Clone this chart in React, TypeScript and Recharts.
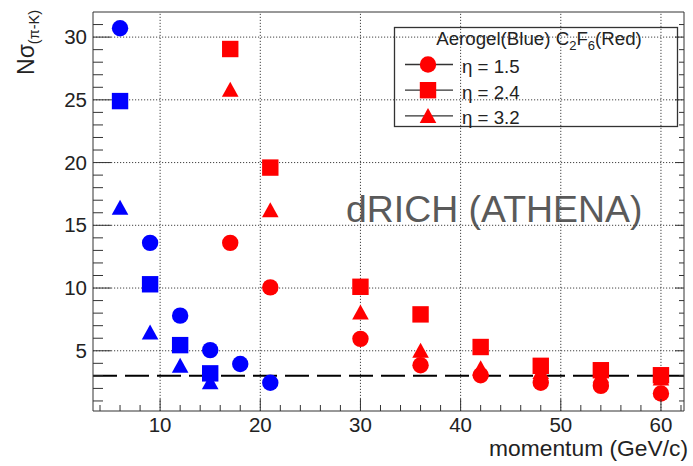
import { ScatterChart, Scatter, XAxis, YAxis, ReferenceLine, Customized } from 'recharts';

// Aerogel (blue) momenta and separation power per eta
const aeroMomentumEta15 = [6, 9, 12, 15, 18, 21];
const aeroEta15 = [30.7, 13.6, 7.8, 5.05, 3.95, 2.45];
const aeroMomentum = [6, 9, 12, 15];
const aeroEta24 = [24.9, 10.3, 5.45, 3.2];
const aeroEta32 = [16.4, 6.45, 3.8, 2.5];

// C2F6 gas (red)
const gasMomentum = [17, 21, 30, 36, 42, 48, 54, 60];
const gasEta15 = [13.6, 10.05, 5.95, 3.85, 3.05, 2.45, 2.2, 1.6];
const gasEta24 = [29.05, 19.6, 10.1, 7.9, 5.3, 3.8, 3.45, 3.05];
const gasEta32 = [25.8, 16.2, 8.05, 5.0, 3.6, 3.3, 3.0, 2.8];

const xMajor = [10, 20, 30, 40, 50, 60];
const xTicks = [4, 6, 8, 10, 12, 14, 16, 18, 20, 22, 24, 26, 28, 30, 32, 34, 36, 38, 40, 42, 44, 46, 48, 50, 52, 54, 56, 58, 60, 62];
const yMajor = [5, 10, 15, 20, 25, 30];
const yTicks = Array.from({ length: 31 }, (_, i) => i + 1);
const threshold = 3;

const legendItems = ['η = 1.5', 'η = 2.4', 'η = 3.2'];

const FONT = '"Liberation Sans", Arial, Helvetica, sans-serif';
const AXIS = '#333';
const BLUE = '#0000ff';
const RED = '#ff0000';

const pts = (xs: number[], ys: number[]) => xs.map((x, i) => ({ x, y: ys[i] }));

const CircleMark = (p: any) => <circle cx={p.cx} cy={p.cy} r={8.2} fill={p.fill} />;
const SquareMark = (p: any) => <rect x={p.cx - 8.2} y={p.cy - 8.2} width={16.4} height={16.4} fill={p.fill} />;
const TriMark = (p: any) => (
  <polygon points={`${p.cx},${p.cy - 8} ${p.cx - 8.3},${p.cy + 7} ${p.cx + 8.3},${p.cy + 7}`} fill={p.fill} />
);

const BottomTick = ({ x, y, payload }: any) => {
  const major = payload.value % 10 === 0;
  return (
    <g>
      <line x1={x} x2={x} y1={y} y2={y - (major ? 12 : 6)} stroke={AXIS} />
      {major && (
        <text x={x} y={y + 21} textAnchor="middle" fontSize={20.5} fontFamily={FONT} fill="#222">
          {payload.value}
        </text>
      )}
    </g>
  );
};

const TopTick = ({ x, y, payload }: any) => {
  const major = payload.value % 10 === 0;
  return <line x1={x} x2={x} y1={y} y2={y + (major ? 7 : 4)} stroke={AXIS} />;
};

const LeftTick = ({ x, y, payload }: any) => {
  const major = payload.value % 5 === 0;
  return (
    <g>
      <line x1={x} x2={x + (major ? 18 : 10)} y1={y} y2={y} stroke={AXIS} />
      {major && (
        <text x={x - 6} y={y + 7} textAnchor="end" fontSize={20.5} fontFamily={FONT} fill="#222">
          {payload.value}
        </text>
      )}
    </g>
  );
};

const RightTick = ({ x, y, payload }: any) => {
  const major = payload.value % 5 === 0;
  return <line x1={x} x2={x - (major ? 9 : 5)} y1={y} y2={y} stroke={AXIS} />;
};

const Decorations = () => (
  <g fontFamily={FONT}>
    <text transform="translate(34,10) rotate(-90)" textAnchor="end" fontSize={23} fill="#222">
      <tspan>Nσ</tspan>
      <tspan fontSize={14.5} dy={5}>(π-K)</tspan>
    </text>
    <text x={688} y={456} textAnchor="end" fontSize={22.8} fill="#222">
      momentum (GeV/c)
    </text>
    <text x={346} y={222} fontSize={37.4} fill="#5a5a5a">
      dRICH (ATHENA)
    </text>
    <rect x={394.5} y={27.5} width={283} height={99} fill="#fff" stroke={AXIS} strokeWidth={1.3} />
    <text x={539} y={45} textAnchor="middle" fontSize={18.7} fill="#222">
      Aerogel(Blue) C<tspan fontSize={13} dy={5}>2</tspan>
      <tspan dy={-5}>F</tspan>
      <tspan fontSize={13} dy={5}>6</tspan>
      <tspan dy={-5}>(Red)</tspan>
    </text>
    {legendItems.map((label, i) => {
      const cy = 64.5 + i * 25.7;
      return (
        <g key={label}>
          <line x1={405} x2={453} y1={cy} y2={cy} stroke={AXIS} strokeWidth={1.3} />
          {i === 0 && <CircleMark cx={428} cy={cy} fill={RED} />}
          {i === 1 && <SquareMark cx={428} cy={cy} fill={RED} />}
          {i === 2 && <TriMark cx={428} cy={cy} fill={RED} />}
          <text x={462} y={cy + 8.5} fontSize={18.7} fill="#222">
            {label}
          </text>
        </g>
      );
    })}
  </g>
);

export default function App() {
  const domainX: [number, number] = [3.3, 62.3];
  const domainY: [number, number] = [0.2, 32];
  return (
    <div style={{ position: 'absolute', left: 0, top: 0, background: '#fff' }}>
      <ScatterChart width={693} height={466} margin={{ top: 11, right: 8, bottom: 54, left: 92 }}>
        <XAxis
          type="number"
          dataKey="x"
          domain={domainX}
          allowDataOverflow
          ticks={xTicks}
          interval={0}
          height={1}
          tickSize={0}
          tickMargin={0}
          tickLine={false}
          tick={<BottomTick />}
          axisLine={{ stroke: AXIS }}
        />
        <XAxis
          xAxisId="top"
          orientation="top"
          type="number"
          domain={domainX}
          allowDataOverflow
          ticks={xTicks}
          interval={0}
          height={1}
          tickSize={0}
          tickMargin={0}
          tickLine={false}
          tick={<TopTick />}
          axisLine={{ stroke: AXIS }}
        />
        <YAxis
          type="number"
          dataKey="y"
          domain={domainY}
          allowDataOverflow
          ticks={yTicks}
          interval={0}
          width={1}
          tickSize={0}
          tickMargin={0}
          tickLine={false}
          tick={<LeftTick />}
          axisLine={{ stroke: AXIS }}
        />
        <YAxis
          yAxisId="right"
          orientation="right"
          type="number"
          domain={domainY}
          allowDataOverflow
          ticks={yTicks}
          interval={0}
          width={1}
          tickSize={0}
          tickMargin={0}
          tickLine={false}
          tick={<RightTick />}
          axisLine={{ stroke: AXIS }}
        />
        {xMajor.map((v) => (
          <ReferenceLine key={'gx' + v} x={v} stroke="#444" strokeDasharray="1.2 1.8" />
        ))}
        {yMajor.map((v) => (
          <ReferenceLine key={'gy' + v} y={v} stroke="#444" strokeDasharray="1.2 1.8" />
        ))}
        <Scatter data={pts(aeroMomentum, aeroEta32)} fill={BLUE} shape={<TriMark />} isAnimationActive={false} />
        <Scatter data={pts(aeroMomentum, aeroEta24)} fill={BLUE} shape={<SquareMark />} isAnimationActive={false} />
        <Scatter data={pts(aeroMomentumEta15, aeroEta15)} fill={BLUE} shape={<CircleMark />} isAnimationActive={false} />
        <Scatter data={pts(gasMomentum, gasEta32)} fill={RED} shape={<TriMark />} isAnimationActive={false} />
        <Scatter data={pts(gasMomentum, gasEta24)} fill={RED} shape={<SquareMark />} isAnimationActive={false} />
        <Scatter data={pts(gasMomentum, gasEta15)} fill={RED} shape={<CircleMark />} isAnimationActive={false} />
        <ReferenceLine y={threshold} stroke="#000" strokeWidth={2} strokeDasharray="24 8" />
        <Customized component={<Decorations />} />
      </ScatterChart>
    </div>
  );
}
